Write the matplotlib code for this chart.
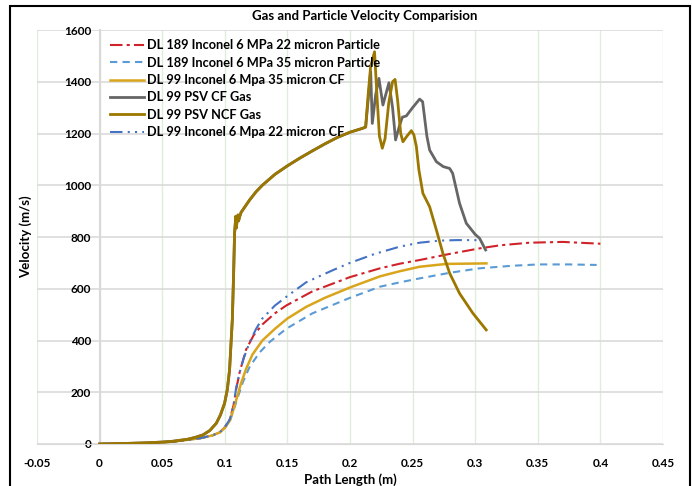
import matplotlib
matplotlib.use("Agg")
import matplotlib.pyplot as plt
from matplotlib.patches import Rectangle

plt.rcParams['font.family'] = ['Lato', 'DejaVu Sans']

# path length (m) / velocity (m/s)
gas_ncf_x = [0, 0.02, 0.04, 0.056, 0.07, 0.076, 0.0825, 0.088, 0.0932, 0.0965, 0.0998,
             0.102, 0.1038, 0.106, 0.107,
             0.1078, 0.1088, 0.1093, 0.1098, 0.1105, 0.111, 0.1118, 0.113, 0.1198, 0.125,
             0.13, 0.14, 0.15, 0.16, 0.17, 0.18, 0.19, 0.2, 0.21, 0.2125,
             0.2145, 0.2165, 0.2196, 0.2215, 0.2235, 0.2258, 0.228, 0.231, 0.234, 0.236,
             0.238, 0.2405, 0.2423, 0.2455, 0.249, 0.251, 0.253, 0.255, 0.2582, 0.2636,
             0.269, 0.2742, 0.2796, 0.2875, 0.2982, 0.3088]
gas_ncf_v = [0, 2, 5, 9, 18, 25, 35, 52, 80, 112, 157,
             210, 286, 480, 650,
             814, 880, 835, 870, 885, 862, 878, 895, 943, 975,
             1000, 1042, 1075, 1105, 1133, 1160, 1185, 1205, 1220, 1225,
             1350, 1460, 1516, 1350, 1190, 1143, 1180, 1320, 1400, 1409,
             1330, 1200, 1168, 1190, 1211, 1195, 1150, 1060, 969, 917,
             827, 737, 660, 582, 505, 441]

n_shared = gas_ncf_x.index(0.2125) + 1
gas_cf_x = gas_ncf_x[:n_shared] + [0.2145, 0.2165, 0.2178, 0.2205, 0.2231, 0.2263, 0.2311,
                                   0.234, 0.2364, 0.2395, 0.2418, 0.245, 0.25, 0.2556, 0.258,
                                   0.2614, 0.2636, 0.269, 0.2745, 0.2796, 0.282, 0.2875,
                                   0.2929, 0.3, 0.3035, 0.3083]
gas_cf_v = gas_ncf_v[:n_shared] + [1330, 1440, 1239, 1350, 1413, 1310, 1396,
                                   1300, 1175, 1230, 1263, 1268, 1300, 1333, 1323,
                                   1190, 1136, 1091, 1072, 1065, 1046, 930,
                                   853, 810, 795, 750]

p189_22_x = [0, 0.02, 0.04, 0.06, 0.08, 0.09, 0.096, 0.1, 0.104, 0.107, 0.109, 0.112,
             0.117, 0.123, 0.13, 0.14, 0.149, 0.17, 0.2, 0.224, 0.24, 0.2556, 0.28, 0.3035,
             0.32, 0.3435, 0.37, 0.4]
p189_22_v = [0, 1, 4, 10, 22, 33, 45, 65, 95, 150, 210, 280,
             365, 420, 462, 505, 535, 590, 645, 679, 697, 711, 735, 756,
             768, 778, 781, 774]

p189_35_x = [0, 0.02, 0.04, 0.06, 0.08, 0.09, 0.096, 0.1, 0.104, 0.107, 0.11, 0.1145,
             0.12, 0.128, 0.136, 0.149, 0.17, 0.2, 0.224, 0.24, 0.2556, 0.28, 0.3035, 0.33,
             0.351, 0.375, 0.397]
p189_35_v = [0, 1, 4, 10, 22, 33, 45, 62, 88, 130, 175, 240,
             300, 355, 395, 445, 505, 565, 608, 625, 640, 662, 679, 689,
             694, 694, 692]

p99_35cf_x = [0, 0.02, 0.04, 0.06, 0.08, 0.09, 0.096, 0.1, 0.104, 0.107, 0.11, 0.113,
              0.117, 0.122, 0.13, 0.14, 0.15, 0.165, 0.18, 0.2, 0.224, 0.24, 0.2556, 0.277,
              0.309]
p99_35cf_v = [0, 1, 4, 10, 22, 33, 45, 62, 90, 135, 185, 235,
              290, 345, 400, 445, 485, 530, 565, 605, 648, 668, 685, 696,
              698]

p99_22cf_x = [0, 0.02, 0.04, 0.06, 0.08, 0.09, 0.096, 0.1, 0.104, 0.107, 0.109, 0.1118,
              0.115, 0.12, 0.125, 0.13, 0.14, 0.15, 0.165, 0.1864, 0.2, 0.22, 0.24, 0.2556,
              0.2716, 0.285, 0.3035]
p99_22cf_v = [0, 1, 4, 10, 22, 33, 45, 65, 95, 150, 215, 275,
              330, 395, 445, 485, 535, 572, 625, 672, 700, 735, 763, 778,
              786, 788, 788]

x_ticks = [-0.05, 0, 0.05, 0.1, 0.15, 0.2, 0.25, 0.3, 0.35, 0.4, 0.45]
y_ticks = [0, 200, 400, 600, 800, 1000, 1200, 1400, 1600]

fig = plt.figure(figsize=(6.92, 4.86), dpi=100)
ax = fig.add_axes([37 / 692, 1 - 444 / 486, 626 / 692, 414 / 486])

ax.plot(p189_22_x, p189_22_v, color='#D0222A', lw=1.5, dashes=(6, 2, 1.5, 2),
        label='DL 189 Inconel 6 MPa 22 micron Particle', zorder=3)
ax.plot(p189_35_x, p189_35_v, color='#5B9BD5', lw=1.5, dashes=(3.5, 2.5),
        label='DL 189 Inconel 6 MPa 35 micron Particle', zorder=3)
ax.plot(p99_35cf_x, p99_35cf_v, color='#D9A51C', lw=1.8,
        label='DL 99 Inconel 6 Mpa 35 micron CF', zorder=3)
ax.plot(gas_cf_x, gas_cf_v, color='#666666', lw=2,
        label='DL 99 PSV CF Gas', zorder=4)
ax.plot(gas_ncf_x, gas_ncf_v, color='#9C7700', lw=2,
        label='DL 99 PSV NCF Gas', zorder=5)
ax.plot(p99_22cf_x, p99_22cf_v, color='#4472C4', lw=1.5,
        dashes=(6, 2.5, 1, 2.5, 1, 2.5),
        label='DL 99 Inconel 6 Mpa 22 micron CF', zorder=3)

ax.set_xlim(-0.05, 0.45)
ax.set_ylim(0, 1600)
ax.set_xticks(x_ticks)
ax.set_xticklabels([f'{t:g}' for t in x_ticks])
ax.set_yticks(y_ticks)

# Excel-like gridlines: light green verticals, light grey horizontals
for t in x_ticks:
    ax.axvline(t, color='#DDEFD9', lw=1, zorder=0)
for t in y_ticks:
    ax.axhline(t, color='#DADADA', lw=1.2, zorder=0)

ax.spines['left'].set_position(('data', 0))
ax.spines['left'].set_color('#D9D9D9')
ax.spines['left'].set_linewidth(1.5)
ax.spines['bottom'].set_color('#D9D9D9')
ax.spines['top'].set_visible(False)
ax.spines['right'].set_visible(False)
ax.tick_params(length=0, labelsize=8.5, pad=6)
for lab in ax.get_xticklabels() + ax.get_yticklabels():
    lab.set_fontweight('bold')
ax.tick_params(axis='x', pad=10)

ax.set_xlabel('Path Length (m)', fontsize=9.5, fontweight='bold', labelpad=3)
ax.set_ylabel('Velocity (m/s)', fontsize=9.5, fontweight='bold')
ax.yaxis.set_label_coords(-0.008, 0.5)
fig.text(365 / 692, 1 - 16 / 486, 'Gas and Particle Velocity Comparision',
         ha='center', va='center', fontsize=9.5, fontweight='bold')

leg = ax.legend(loc='upper left', bbox_to_anchor=(0.108, 0.99), frameon=False,
                prop={'size': 9.2, 'weight': 'bold'}, handlelength=2.7,
                handletextpad=0.2, labelspacing=0.42, borderaxespad=0)

fig.patches.append(Rectangle((10 / 692, -0.05), 680 / 692, 1.05 - 6 / 486,
                             transform=fig.transFigure, fill=False,
                             edgecolor='black', lw=1.5))

fig.savefig('out.png', dpi=100)
